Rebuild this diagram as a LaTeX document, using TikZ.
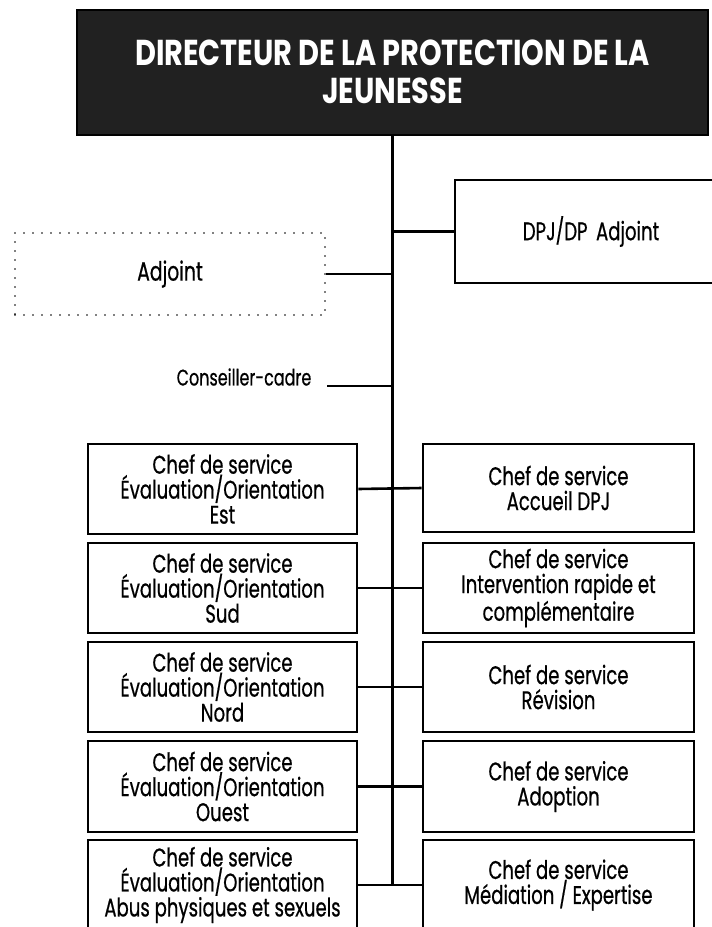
\documentclass[tikz,border=0pt]{standalone}
\usepackage{fontspec}
\setmainfont[FakeStretch=0.71,FakeBold=0.6]{Poppins}
\newfontfamily\titlefont[FakeStretch=0.8]{Poppins}
\begin{document}
\begin{tikzpicture}[x=1pt,y=-1pt,
  box/.style={draw=black,line width=2.6pt,fill=white,align=center,inner sep=0pt,
    font=\fontsize{25.5}{25}\selectfont},
  link/.style={line width=2.6pt},
  titlebox/.style={draw=black,line width=2pt,fill=black!87,text=white,align=center,inner sep=0pt,
    font=\titlefont\bfseries\fontsize{36}{38}\selectfont},
  dotbox/.style={draw=black,line width=1.6pt,dash pattern=on 0pt off 9pt,line cap=round,align=center,inner sep=0pt,
    font=\fontsize{26.5}{25}\selectfont}]
\useasboundingbox (0,0) rectangle (712,927);
\fill[white] (0,0) rectangle (712,927);
% title
\node[titlebox,minimum width=631,minimum height=125] (dir) at (392.5,72) {DIRECTEUR DE LA PROTECTION DE LA\\JEUNESSE};
\coordinate (bot) at (392.5,885);
\draw[link] (dir.south) -- (bot);
% DPJ adjoint
\node[box,minimum width=272,minimum height=103,text width=272] (dpj) at (591,231.5) {DPJ/DP Adjoint};
\draw[link] (dpj.west) -- (dpj.west -| dir.south);
% Adjoint dotted
\node[dotbox,minimum width=310,minimum height=82] (adj) at (170,274) {Adjoint};
\draw[link] (adj.east) -- (adj.east -| dir.south);
% Conseiller-cadre
\node[font=\fontsize{22.5}{24}\selectfont,inner sep=0pt] (cons) at (244,377) {Conseiller-cadre};
\coordinate (c1) at (327,386);
\draw[link] (c1) -- (c1 -| dir.south);
% left column
\node[box,minimum width=269,minimum height=90] (l1) at (222.5,489) {Chef de service\\Évaluation/Orientation\\Est};
\node[box,minimum width=269,minimum height=90] (l2) at (222.5,588) {Chef de service\\Évaluation/Orientation\\Sud};
\node[box,minimum width=269,minimum height=90] (l3) at (222.5,687) {Chef de service\\Évaluation/Orientation\\Nord};
\node[box,minimum width=269,minimum height=91] (l4) at (222.5,786.5) {Chef de service\\Évaluation/Orientation\\Ouest};
\node[box,minimum width=269,minimum height=90] (l5) at (222.5,885) {Chef de service\\Évaluation/Orientation\\Abus physiques et sexuels};
% right column
\node[box,minimum width=271,minimum height=88] (r1) at (558.5,488) {Chef de service\\Accueil DPJ};
\node[box,minimum width=271,minimum height=90] (r2) at (558.5,588) {Chef de service\\Intervention rapide et\\complémentaire};
\node[box,minimum width=271,minimum height=90] (r3) at (558.5,687) {Chef de service\\Révision};
\node[box,minimum width=271,minimum height=91] (r4) at (558.5,786.5) {Chef de service\\Adoption};
\node[box,minimum width=271,minimum height=90] (r5) at (558.5,885) {Chef de service\\Médiation / Expertise};
% connectors
\foreach \i in {1,...,5}{\draw[link] (l\i.east) -- (r\i.west);}
\end{tikzpicture}
\end{document}
